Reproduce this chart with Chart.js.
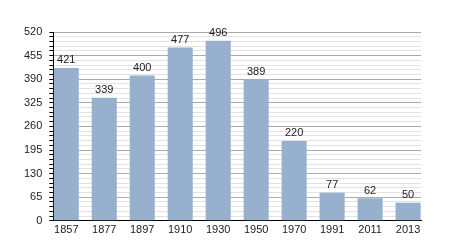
<!DOCTYPE html>
<html>
<head>
<meta charset="utf-8">
<script src="https://cdn.jsdelivr.net/npm/chart.js@4"></script>
<style>
    html, body { margin: 0; padding: 0; background: #fff; }
</style>
</head>
<body>
<canvas id="chartBar" width="450" height="250"></canvas>
<script>
// ===== data
const years = ["1857", "1877", "1897", "1910", "1930", "1950", "1970", "1991", "2011", "2013"];
const population = [421, 339, 400, 477, 496, 389, 220, 77, 62, 50];
const yMajorStep = 65;
const yMinorStep = 13;
const yMax = 520;

const FONT = "'Liberation Sans', Arial, sans-serif";

// ===== label angka di atas bar
const valueLabels = {
    id: "valueLabels",
    afterDatasetsDraw(chart) {
        const { ctx } = chart;
        const meta = chart.getDatasetMeta(0);
        ctx.save();
        ctx.font = "11px " + FONT;
        ctx.fillStyle = "#222";
        ctx.textAlign = "center";
        ctx.textBaseline = "bottom";
        meta.data.forEach((bar, i) => {
            ctx.fillText(String(population[i]), bar.x, bar.y - 2);
        });
        ctx.restore();
    },
};

new Chart(document.getElementById("chartBar"), {
    type: "bar",
    data: {
        datasets: [
            {
                data: population.map((v, i) => ({ x: i, y: v })),
                backgroundColor: "#97b0cd",
                borderWidth: 0,
                barPercentage: 0.66,
                categoryPercentage: 1,
            },
        ],
    },
    options: {
        responsive: false,
        animation: false,
        layout: { padding: { top: 32, right: 29, bottom: 10, left: 17 } },
        plugins: { legend: { display: false }, tooltip: { enabled: false } },
        scales: {
            x: {
                type: "linear",
                offset: false,
                min: -0.34,
                max: years.length - 1 + 0.34,
                grid: { display: false, drawTicks: false },
                border: { display: true, color: "#000", width: 1 },
                ticks: {
                    stepSize: 1,
                    autoSkip: false,
                    maxRotation: 0,
                    minRotation: 0,
                    color: "#222",
                    font: { family: FONT, size: 11 },
                    padding: 3,
                    callback: (v) => (Number.isInteger(v) ? years[v] : ""),
                },
                afterBuildTicks: (scale) => {
                    scale.ticks = years.map((_, i) => ({ value: i }));
                },
            },
            y: {
                min: 0,
                max: yMax,
                border: { display: true, color: "#000", width: 1 },
                grid: {
                    color: (c) => (c.tick && c.tick.value % yMajorStep === 0 ? "#aaaaaa" : "#e2e2e2"),
                    tickColor: "#000",
                    tickLength: 4,
                },
                ticks: {
                    stepSize: yMinorStep,
                    autoSkip: false,
                    color: "#222",
                    font: { family: FONT, size: 11 },
                    padding: 7,
                    callback: (v) => (v % yMajorStep === 0 ? v : ""),
                },
            },
        },
    },
    plugins: [valueLabels],
});
</script>
</body>
</html>
